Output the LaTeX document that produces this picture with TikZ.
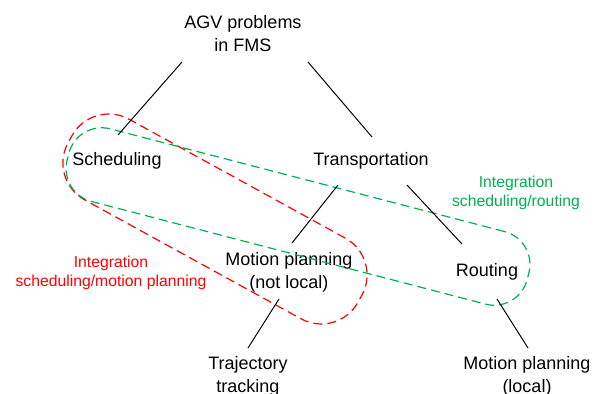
\documentclass[tikz,border=0pt]{standalone}
\usepackage{fontspec}
\setmainfont{Liberation Sans}
\definecolor{loopred}{RGB}{255,0,0}
\definecolor{loopgreen}{RGB}{0,176,80}

\begin{document}
\begin{tikzpicture}[x=0.025cm, y=-0.025cm,
        term/.style={inner sep=0pt, align=center, font=\fontsize{12.8}{16.4}\selectfont},
        group_note/.style={inner sep=0pt, align=center, font=\fontsize{11.2}{13.8}\selectfont},
        group_loop/.style={draw, dash pattern=on 6.4pt off 3.6pt, line width=0.85pt, inner sep=0pt, outer sep=0pt},
        edge/.style={line width=0.7pt}
    ]
        \useasboundingbox (0,0) rectangle (600,394);

        % Problem tree
        \node[term] (agv) at (243,34) {AGV problems\\in FMS};
        \node[term] (sched) at (117,161) {Scheduling};
        \node[term] (trans) at (371,161) {Transportation};
        \node[term] (mpnl) at (289,272) {Motion planning\\(not local)};
        \node[term] (rout) at (487,272) {Routing};
        \node[term] (traj) at (248,376) {Trajectory\\tracking};
        \node[term] (mpl) at (527,376) {Motion planning\\(local)};

        % Integration groups
        \node[group_loop, loopred, rounded corners=1.05cm, minimum width=8.27cm, minimum height=2.3cm, rotate=-28.8] (loop_sm) at (215,219) {};
        \node[group_loop, loopgreen, rounded corners=0.85cm, minimum width=11.88cm, minimum height=1.875cm, rotate=-14.6] (loop_sr) at (298,216.5) {};
        \node[group_note, text=loopred] (note_sm) at (111,273) {Integration\\scheduling/motion planning};
        \node[group_note, text=loopgreen] (note_sr) at (516,193) {Integration\\scheduling/routing};

        % Connectors
        \draw[edge] ([shift={(-61,28)}]agv.center) -- ([shift={(1,-26)}]sched.center);
        \draw[edge] ([shift={(65,28)}]agv.center) -- ([shift={(1,-24)}]trans.center);
        \draw[edge] ([shift={(-33,24)}]trans.center) -- ([shift={(3,-29)}]mpnl.center);
        \draw[edge] ([shift={(36,24)}]trans.center) -- ([shift={(-25,-28)}]rout.center);
        \draw[edge] ([shift={(-10,27)}]mpnl.center) -- ([shift={(0,-28)}]traj.center);
        \draw[edge] ([shift={(10,27)}]rout.center) -- ([shift={(1,-28)}]mpl.center);

    \end{tikzpicture}
\end{document}
